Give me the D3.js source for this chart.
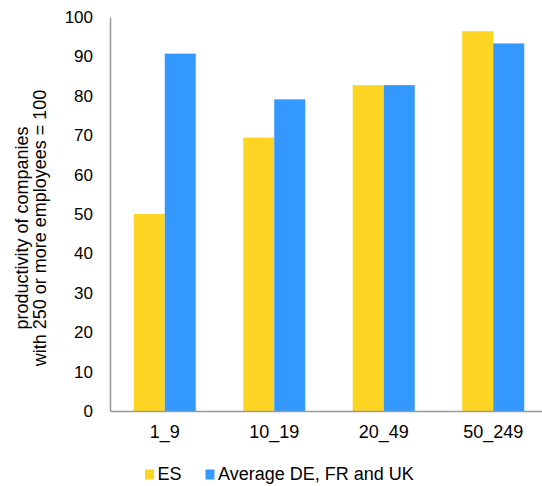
<!DOCTYPE html>
<html><head><meta charset="utf-8">
<script src="https://cdn.jsdelivr.net/npm/d3@7"></script>
<style>body{margin:0;background:#fff;}svg{display:block;font-family:"Liberation Sans",Arial,sans-serif;}</style>
</head><body>
<svg id="c" width="542" height="486"></svg>
<script>
const categories = ["1_9", "10_19", "20_49", "50_249"];
const seriesNames = ["ES", "Average DE, FR and UK"];
const esValues = [50, 69.4, 82.7, 96.4];
const avgValues = [90.7, 79.1, 82.7, 93.3];
const yTicks = [0, 10, 20, 30, 40, 50, 60, 70, 80, 90, 100];
const colors = ["#FFD523", "#3399FF"];

(function () {
const svg = d3.select("#c");
const FF = "Liberation Sans, Arial, sans-serif";
const mLeft = 110, mRight = 548, mTop = 17, mBottom = 411;
const y = d3.scaleLinear().domain([0, 100]).range([mBottom, mTop]);
const x0 = d3.scaleBand().domain(categories).range([mLeft, mRight]).padding(0);
const step = x0.bandwidth();
const groupW = 62;
const x1 = d3.scaleBand().domain(seriesNames).range([(step - groupW) / 2, (step + groupW) / 2]).padding(0);

const data = categories.map((c, i) => ({cat: c, vals: [esValues[i], avgValues[i]]}));

const g = svg.append("g");
data.forEach(d => {
  d.vals.forEach((v, j) => {
    g.append("rect")
      .attr("x", x0(d.cat) + x1(seriesNames[j]))
      .attr("y", y(v))
      .attr("width", x1.bandwidth())
      .attr("height", y(0) - y(v))
      .attr("fill", colors[j]);
  });
});

const yAxis = d3.axisLeft(y).tickValues(yTicks).tickSize(0).tickPadding(17);
const ya = svg.append("g").attr("transform", `translate(${mLeft},0)`).call(yAxis);
ya.attr("font-family", FF);
ya.select(".domain").attr("stroke", "#999").attr("stroke-width", 1.5);
ya.selectAll("text").attr("font-size", 17).attr("fill", "#000");

const xAxis = d3.axisBottom(x0).tickSize(0).tickPadding(14.5);
const xa = svg.append("g").attr("transform", `translate(0,${mBottom})`).call(xAxis);
xa.attr("font-family", FF);
xa.select(".domain").attr("stroke", "#999").attr("stroke-width", 1.5);
xa.selectAll("text").attr("font-size", 18).attr("fill", "#000");

const t = svg.append("text").attr("transform", "translate(27.5,228) rotate(-90)")
  .attr("text-anchor", "middle").attr("font-size", 18).attr("fill", "#000");
t.append("tspan").attr("x", 0).attr("dy", 0).text("productivity of companies");
t.append("tspan").attr("x", 0).attr("dy", 18).text("with 250 or more employees = 100");

const leg = svg.append("g");
const legX = [145, 205.5];
seriesNames.forEach((n, j) => {
  leg.append("rect").attr("x", legX[j]).attr("y", 469.5).attr("width", 9).attr("height", 10).attr("fill", colors[j]);
  leg.append("text").attr("x", legX[j] + 12.5).attr("y", 479.5).attr("font-size", 18).attr("fill", "#000").text(n);
});
})();
</script>
</body></html>
